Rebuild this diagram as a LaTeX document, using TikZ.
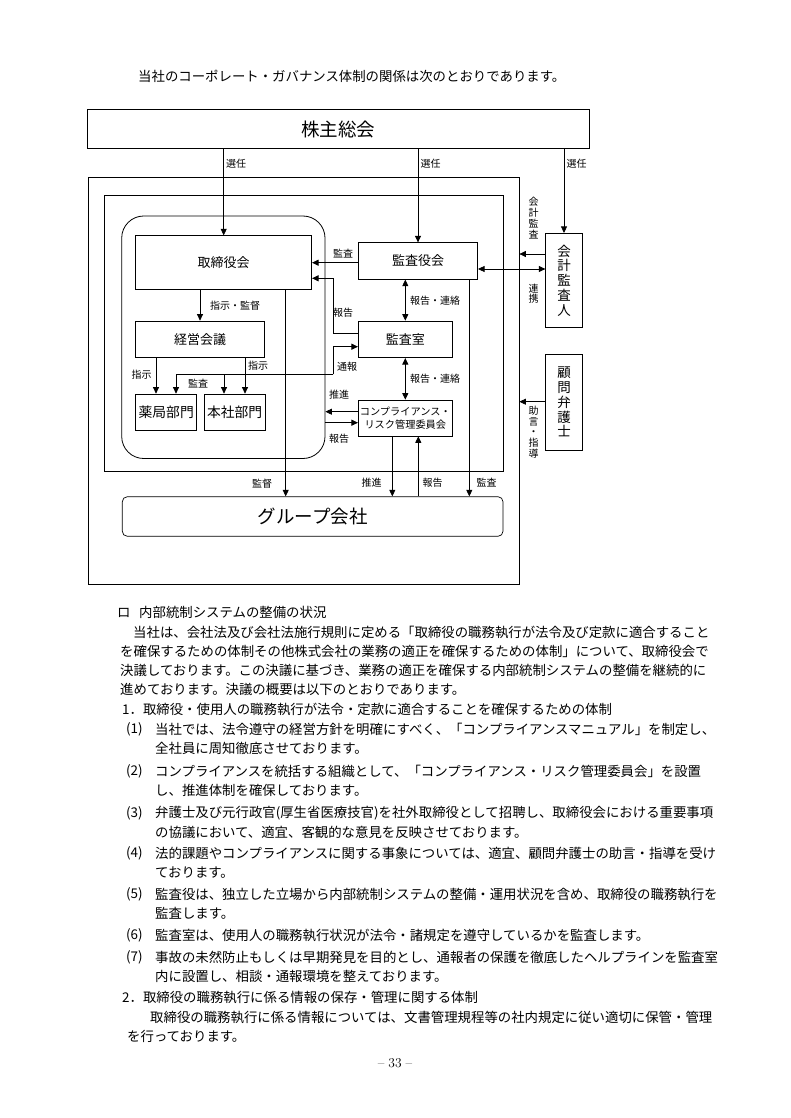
\documentclass[tikz,border=0pt]{standalone}
\usepackage{fontspec}
\newfontfamily\jp{Noto Sans CJK JP}
\usetikzlibrary{arrows.meta}
\newcommand\fBody{\jp\fontsize{13.4}{15}\selectfont}
\newcommand\fLbl{\jp\fontsize{10}{11}\selectfont}
\newcommand\fBig{\jp\fontsize{18.5}{20}\selectfont}
\newcommand\fBox{\jp\fontsize{13}{15}\selectfont}
\newcommand\fDept{\jp\fontsize{13.8}{15}\selectfont}
\newcommand\fCmp{\jp\fontsize{10.2}{13.4}\selectfont}
\newcommand\fVert{\jp\fontsize{13.5}{14.8}\selectfont}
\newcommand\fVl{\jp\fontsize{10}{10.8}\selectfont}
\tikzset{
  ln/.style={line width=0.7pt, draw=black},
  arr/.style={ln, -{Triangle[length=6.5pt,width=6pt]}},
  darr/.style={ln, {Triangle[length=6.5pt,width=6pt]}-{Triangle[length=6.5pt,width=6pt]}},
  boxn/.style={draw, line width=0.7pt, inner sep=0pt, align=center},
  framen/.style={draw, line width=0.8pt, inner sep=0pt},
  lbl/.style={font=\fLbl, inner sep=0pt},
  vlbl/.style={font=\fVl, inner sep=0pt, align=center},
  txt/.style={font=\fBody, inner sep=0pt, anchor=west},
}
\begin{document}
\begin{tikzpicture}[x=1pt,y=-1pt]
\useasboundingbox (0,0) rectangle (790,1118);
\fill[white] (0,0) rectangle (790,1118);

% header
\node[txt] (head) at (138,76.5) {当社のコーポレート・ガバナンス体制の関係は次のとおりであります。};

% frames
\node[framen, minimum width=430.4pt, minimum height=406.6pt] (outer) at (303.8,380.7) {};
\node[framen, minimum width=398.5pt, minimum height=276pt] (inner) at (304.05,333) {};
\node[framen, rounded corners=22pt, minimum width=203.3pt, minimum height=242.5pt] (rnd) at (223.35,337.25) {};

% boxes
\node[boxn, minimum width=501.4pt, minimum height=39.5pt, font=\fBig] (kabu) at (338.3,129) {株主総会};
\node[boxn, minimum width=176pt, minimum height=53.3pt, font=\fBox] (tori) at (223.7,262.35) {取締役会};
\node[boxn, minimum width=128.6pt, minimum height=36.7pt, font=\fBox] (keiei) at (200,339.35) {経営会議};
\node[boxn, minimum width=61pt, minimum height=36.7pt, font=\fDept] (yakkyoku) at (166.2,412.35) {薬局部門};
\node[boxn, minimum width=60.7pt, minimum height=36.7pt, font=\fDept] (honsha) at (234.65,412.35) {本社部門};
\node[boxn, minimum width=119.4pt, minimum height=36.6pt, font=\fBox] (kansayaku) at (418,261) {監査役会};
\node[boxn, minimum width=94pt, minimum height=36.7pt, font=\fBox] (kansashitsu) at (405.3,339.35) {監査室};
\node[boxn, minimum width=94pt, minimum height=36pt, font=\fCmp] (comp) at (405.3,418) {コンプライアンス・\\リスク管理委員会};
\node[boxn, minimum width=36.6pt, minimum height=94.4pt, font=\fVert] (kaikei) at (564,280.5) {会\\計\\監\\査\\人};
\node[boxn, minimum width=36.6pt, minimum height=95.7pt, font=\fVert] (komon) at (564,402.15) {顧\\問\\弁\\護\\士};
\node[boxn, rounded corners=5pt, minimum width=380.7pt, minimum height=39.6pt, font=\fBig] (group) at (312.65,516.5) {グループ会社};

% connectors from 株主総会
\draw[arr] (kabu.south -| tori.north) -- (tori.north);
\draw[arr] (kabu.south -| kansayaku.north) -- (kansayaku.north);
\draw[arr] (kabu.south -| kaikei.north) -- (kaikei.north);
\node[lbl, anchor=west] (l1) at (226,163.6) {選任};
\node[lbl, anchor=west] (l2) at (420.5,163.6) {選任};
\node[lbl, anchor=west] (l3) at (566.5,163.6) {選任};

% 取締役会 -> 経営会議
\draw[arr] (tori.south -| keiei.north) -- (keiei.north);
\node[lbl, anchor=west] (l4) at (210,306) {指示・監督};

% 経営会議 -> departments
\draw[arr] (keiei.south -| 156,0) -- (yakkyoku.north -| 156,0);
\draw[arr] (keiei.south -| 245,0) -- (honsha.north -| 245,0);
\node[lbl] (l5) at (141.7,375) {指示};
\node[lbl] (l6) at (258,366) {指示};

% 監査室 <-> departments (監査 / 通報)
\coordinate (tj) at (333.3,374.3);
\draw[arr] (tj) -- (tj |- 0,346.7) -- (kansashitsu.west |- 0,346.7);
\draw[arr] (tj) -- (176,374.3) -- (yakkyoku.north -| 176,0);
\draw[arr] (224,374.3) -- (honsha.north -| 224,0);
\node[lbl] (l7) at (198,384) {監査};
\node[lbl] (l8) at (347,366.7) {通報};

% 監査役会 -> 取締役会
\draw[arr] (kansayaku.west |- 0,262.7) -- (tori.east |- 0,262.7);
\node[lbl] (l9) at (343,253.3) {監査};

% 監査室 -> 取締役会 (報告)
\draw[arr] (kansashitsu.west |- 0,333.3) -- (333.3,333.3) -- (333.3,278.3) -- (tori.east |- 0,278.3);
\node[lbl] (l10) at (343,312.7) {報告};

% 監査役会 <-> 監査室 <-> compliance
\draw[darr] (kansayaku.south -| kansashitsu.north) -- (kansashitsu.north);
\draw[darr] (kansashitsu.south) -- (comp.north);
\node[lbl, anchor=west] (l11) at (410,301) {報告・連絡};
\node[lbl, anchor=west] (l12) at (410,379) {報告・連絡};

% compliance <-> 取締役会 group
\draw[arr] (comp.west |- 0,411.7) -- (rnd.east |- 0,411.7);
\draw[arr] (rnd.east |- 0,422.7) -- (comp.west |- 0,422.7);
\node[lbl] (l13) at (339,395) {推進};
\node[lbl] (l14) at (339,438.3) {報告};

% 監査役会 <-> 会計監査人
\draw[darr] (kansayaku.east |- 0,269) -- (kaikei.west |- 0,269);
\draw[arr] (kaikei.west |- 0,254) -- (outer.east |- 0,254);
\draw[arr] (komon.west |- 0,401.7) -- (outer.east |- 0,401.7);
\node[vlbl] (v1) at (533.5,218) {会\\計\\監\\査};
\node[vlbl] (v2) at (533.5,293.7) {連\\携};
\node[vlbl] (v3) at (533.5,432) {助\\言\\・\\指\\導};

% to グループ会社
\draw[arr] (tori.south -| 285.7,0) -- (group.north -| 285.7,0);
\draw[arr] (comp.south -| 392.3,0) -- (group.north -| 392.3,0);
\draw[arr] (group.north -| 418.3,0) -- (comp.south -| 418.3,0);
\draw[arr] (kansayaku.south -| 469.3,0) -- (group.north -| 469.3,0);
\node[lbl] (l15) at (262,484) {監督};
\node[lbl] (l16) at (371.7,482.3) {推進};
\node[lbl] (l17) at (432.7,482.3) {報告};
\node[lbl] (l18) at (486.7,482.3) {監査};

% body text
\node[txt] (t0a) at (117,612.5) {ロ};
\node[txt] (t0b) at (139,612.5) {内部統制システムの整備の状況};
\node[txt] (t1) at (133,632) {当社は、会社法及び会社法施行規則に定める「取締役の職務執行が法令及び定款に適合すること};
\node[txt] (t2) at (120,651) {を確保するための体制その他株式会社の業務の適正を確保するための体制」について、取締役会で};
\node[txt] (t3) at (120,670) {決議しております。この決議に基づき、業務の適正を確保する内部統制システムの整備を継続的に};
\node[txt] (t4) at (120,689.5) {進めております。決議の概要は以下のとおりであります。};
\node[txt] (t5) at (122,709) {1．取締役・使用人の職務執行が法令・定款に適合することを確保するための体制};
\node[txt] (n1) at (126,729.5) {(1)};
\node[txt] (t6) at (155,729.5) {当社では、法令遵守の経営方針を明確にすべく、「コンプライアンスマニュアル」を制定し、};
\node[txt] (t7) at (155,748.5) {全社員に周知徹底させております。};
\node[txt] (n2) at (126,771) {(2)};
\node[txt] (t8) at (155,771) {コンプライアンスを統括する組織として、「コンプライアンス・リスク管理委員会」を設置};
\node[txt] (t9) at (155,790) {し、推進体制を確保しております。};
\node[txt] (n3) at (126,813) {(3)};
\node[txt] (t10) at (155,813) {弁護士及び元行政官(厚生省医療技官)を社外取締役として招聘し、取締役会における重要事項};
\node[txt] (t11) at (155,832) {の協議において、適宜、客観的な意見を反映させております。};
\node[txt] (n4) at (126,853.5) {(4)};
\node[txt] (t12) at (155,853.5) {法的課題やコンプライアンスに関する事象については、適宜、顧問弁護士の助言・指導を受け};
\node[txt] (t13) at (155,872.5) {ております。};
\node[txt] (n5) at (126,894) {(5)};
\node[txt] (t14) at (155,894) {監査役は、独立した立場から内部統制システムの整備・運用状況を含め、取締役の職務執行を};
\node[txt] (t15) at (155,913) {監査します。};
\node[txt] (n6) at (126,935.5) {(6)};
\node[txt] (t16) at (155,935.5) {監査室は、使用人の職務執行状況が法令・諸規定を遵守しているかを監査します。};
\node[txt] (n7) at (126,957.5) {(7)};
\node[txt] (t17) at (155,957.5) {事故の未然防止もしくは早期発見を目的とし、通報者の保護を徹底したヘルプラインを監査室};
\node[txt] (t18) at (155,976.5) {内に設置し、相談・通報環境を整えております。};
\node[txt] (t19) at (122,997.5) {2．取締役の職務執行に係る情報の保存・管理に関する体制};
\node[txt] (t20) at (150,1017) {取締役の職務執行に係る情報については、文書管理規程等の社内規定に従い適切に保管・管理};
\node[txt] (t21) at (127,1036.5) {を行っております。};
\node[inner sep=0pt, font=\fontsize{13.5}{15}\selectfont] (pg) at (395,1063) {–\hspace{4pt}33\hspace{4pt}–};
\end{tikzpicture}
\end{document}
